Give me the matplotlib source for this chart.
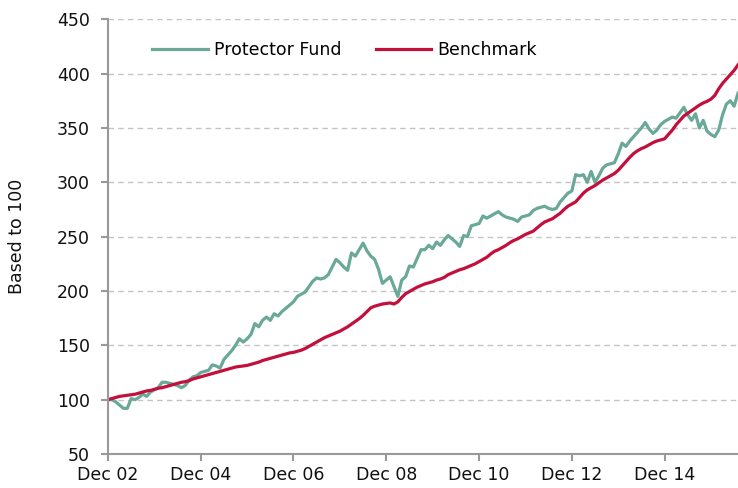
import numpy as np
import matplotlib.pyplot as plt

# monthly index values, Dec 02 .. Jul 16
fund = [100, 100, 98, 95, 92, 92, 101, 100, 102, 105, 103, 107,
        109, 111, 116, 116, 115, 114, 113, 111, 113, 118, 121, 122,
        125, 126, 127, 132, 131, 129, 137, 141, 145, 150, 156, 153,
        156, 160, 170, 167, 173, 176, 173, 179, 177, 181, 184, 187,
        190, 195, 197, 199, 204, 209, 212, 211, 212, 215, 222, 229,
        226, 222, 219, 235, 232, 238, 244, 237, 232, 229, 220, 207,
        210, 213, 204, 195, 210, 213, 223, 222, 230, 238, 238, 242,
        239, 245, 242, 247, 251, 248, 245, 241, 251, 250, 260, 261,
        262, 269, 267, 269, 271, 273, 270, 268, 267, 266, 264, 268,
        269, 270, 274, 276, 277, 278, 276, 275, 276, 282, 286, 290,
        292, 307, 306, 307, 300, 310, 300, 306, 313, 316, 317, 318,
        326, 336, 333, 338, 342, 346, 350, 355, 349, 345, 348, 353,
        356, 358, 360, 359, 364, 369, 362, 357, 363, 350, 357, 347,
        344, 342, 348, 362, 372, 375, 370, 382]

benchmark = [100, 101, 102, 103, 103.5, 104, 104.5, 105, 106, 107, 108, 108.5,
             109.5, 110.5, 111, 112, 113, 114, 115, 116, 116.5, 117.5, 119, 120,
             121, 122, 123, 124, 125, 126, 127, 128, 129, 130, 130.5, 131,
             131.5, 132.5, 133.5, 134.5, 136, 137, 138, 139, 140, 141, 142, 143,
             143.5, 144.5, 145.5, 147, 149, 151, 153, 155, 157, 158.5, 160, 161.5,
             163, 165, 167, 169.5, 172, 174.5, 177.5, 181, 184.5, 186, 187, 188,
             188.5, 189, 188, 190, 194, 197.5, 199.5, 201.5, 203.5, 205, 206.5, 207.5,
             208.5, 210, 211, 212.5, 215, 216.5, 218, 219.5, 220.5, 222, 223.5, 225,
             227, 229, 231, 234, 236.5, 238, 240, 242, 244.5, 246.5, 248, 250,
             252, 253.5, 255, 258, 261, 263.5, 265, 266.5, 269, 271.5, 275, 278,
             280, 282, 286, 290, 293, 295, 297, 299.5, 302, 304, 306, 308,
             311, 315, 319, 323, 326.5, 329, 331, 332.5, 334.5, 336.5, 338, 339,
             340, 344, 348, 353, 357, 361, 363.5, 366, 368.5, 371, 373, 374.5,
             376.5, 380, 386, 391, 395, 399, 403, 408]

tick_months = [0, 24, 48, 72, 96, 120, 144]
tick_labels = ["Dec 02", "Dec 04", "Dec 06", "Dec 08", "Dec 10", "Dec 12", "Dec 14"]

months = np.arange(len(fund))

plt.rcParams['font.family'] = 'DejaVu Sans'
plt.rcParams['font.size'] = 12.5

fig = plt.figure(figsize=(7.38, 4.88), dpi=100)
ax = fig.add_axes([0.1463, 0.0697, 0.8537, 0.8908])

ax.plot(months, fund, color='#6aa898', lw=2.3, label='Protector Fund')
ax.plot(months, benchmark, color='#c20f3b', lw=2.3, label='Benchmark')

ax.set_xlim(0, len(fund) - 1)
ax.set_ylim(50, 450)
ax.set_yticks(np.arange(50, 451, 50))
ax.set_xticks(tick_months)
ax.set_xticklabels(tick_labels)

ax.yaxis.grid(True, color='#c4c4c4', lw=1.0, linestyle=(0, (4, 3)))
ax.set_axisbelow(True)

for s in ['top', 'right']:
    ax.spines[s].set_visible(False)
for s in ['left', 'bottom']:
    ax.spines[s].set_color('#999999')
    ax.spines[s].set_linewidth(1.5)
ax.tick_params(color='#999999', width=1.5, length=5, labelcolor='#111111')
ax.tick_params(axis='y', pad=8)

ax.set_ylabel("Based to 100", labelpad=22, color='#111111')

ax.legend(loc='center left', bbox_to_anchor=(0.07, 0.929), ncol=2, frameon=False,
          borderpad=0, borderaxespad=0, handlelength=3.2, handletextpad=0.35,
          columnspacing=2.0)

fig.savefig('out.png', dpi=100)
